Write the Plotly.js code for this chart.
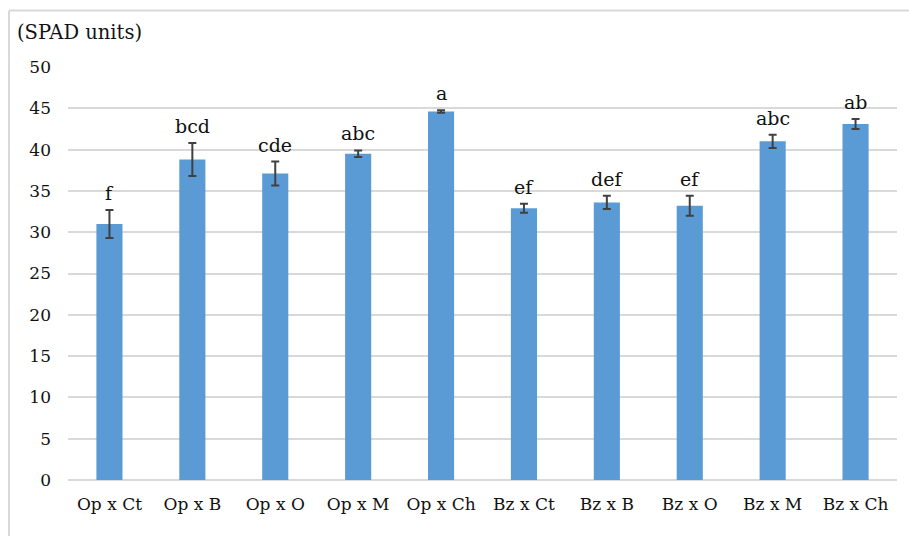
<!DOCTYPE html>
<html>
<head>
<meta charset="utf-8">
<script src="https://cdn.plot.ly/plotly-3.0.1.min.js"></script>
<style>html,body{margin:0;padding:0;background:#fff;}#chart{width:909px;height:536px;}</style>
</head>
<body>
<div id="chart"></div>
<script>
const categories = ["Op x Ct","Op x B","Op x O","Op x M","Op x Ch","Bz x Ct","Bz x B","Bz x O","Bz x M","Bz x Ch"];
const values = [31.0, 38.8, 37.1, 39.5, 44.6, 32.9, 33.6, 33.2, 41.0, 43.1];
const errors = [1.7, 2.0, 1.45, 0.4, 0.15, 0.55, 0.8, 1.2, 0.8, 0.6];
const letters = ["f","bcd","cde","abc","a","ef","def","ef","abc","ab"];
const yTicks = [0,5,10,15,20,25,30,35,40,45,50];

const W = 909, H = 536;
const M = {l: 68, r: 12, t: 67, b: 56};
const pw = W - M.l - M.r, ph = H - M.t - M.b;
const px2x = p => (p - M.l) / pw;
const py2y = p => (H - M.b - p) / ph;

const FONT = "DejaVu Serif";
const FS = 17;

const trace = {
  type: "bar",
  x: categories,
  y: values,
  width: 0.315,
  marker: {color: "#5B9BD5", line: {width: 0}},
  error_y: {type: "data", array: errors, visible: true, color: "#404040", thickness: 2, width: 4},
  hoverinfo: "skip"
};

const annotations = categories.map((c, i) => ({
  x: c, y: values[i] + errors[i], xref: "x", yref: "y",
  text: letters[i], showarrow: false, yanchor: "bottom", yshift: 4,
  font: {family: FONT, size: 19, color: "#111111"}
}));

const layout = {
  width: W, height: H,
  margin: M,
  font: {family: FONT},
  paper_bgcolor: "#ffffff",
  plot_bgcolor: "#ffffff",
  showlegend: false,
  bargap: 0.685,
  title: {text: "(SPAD units)", x: 17 / W, xref: "container", xanchor: "left",
          y: 1 - 32 / H, yref: "container", yanchor: "middle",
          font: {family: FONT, size: 19.5, color: "#111111"}},
  xaxis: {
    type: "category", showgrid: false, zeroline: false, showline: false,
    ticks: "", tickfont: {family: FONT, size: FS, color: "#111111"},
    ticklabelstandoff: 12, fixedrange: true
  },
  yaxis: {
    range: [0, 50], tickvals: yTicks, ticktext: yTicks.map(String),
    showgrid: true, gridcolor: "#D9D9D9", gridwidth: 2,
    zeroline: true, zerolinecolor: "#D9D9D9", zerolinewidth: 2,
    showline: false, ticks: "",
    tickfont: {family: FONT, size: FS, color: "#111111"},
    ticklabelstandoff: 16, fixedrange: true
  },
  annotations: annotations,
  shapes: [
    {type: "line", xref: "paper", yref: "paper", x0: px2x(9), x1: px2x(915), y0: py2y(10.5), y1: py2y(10.5), line: {color: "#D9D9D9", width: 2}},
    {type: "line", xref: "paper", yref: "paper", x0: px2x(9), x1: px2x(9), y0: py2y(10.5), y1: py2y(545), line: {color: "#D9D9D9", width: 2}}
  ]
};

Plotly.newPlot("chart", [trace], layout, {displayModeBar: false, staticPlot: true});
</script>
</body>
</html>
